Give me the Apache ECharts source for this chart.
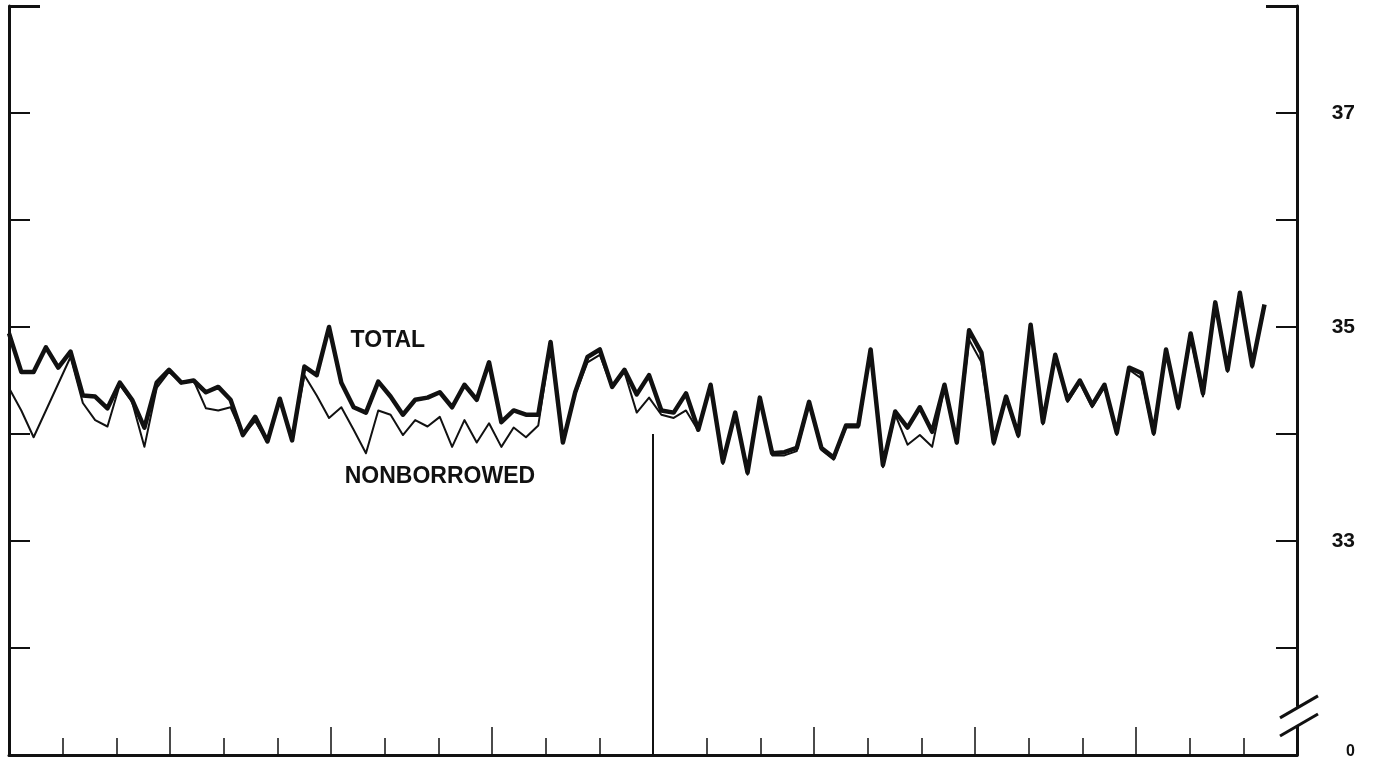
<!DOCTYPE html>
<html>
<head>
<meta charset="utf-8">
<script src="https://cdn.jsdelivr.net/npm/echarts@6/dist/echarts.min.js"></script>
<style>
  html, body { margin: 0; padding: 0; background: #fff; }
  #chart { width: 1378px; height: 760px; }
</style>
</head>
<body>
<div id="chart"></div>
<script>
// weekly reserves, billions of dollars
var totalReserves = [
  34.94, 34.58, 34.58, 34.81, 34.62, 34.77, 34.36, 34.35, 34.24, 34.48,
  34.32, 34.06, 34.48, 34.60, 34.48, 34.50, 34.39, 34.44, 34.32, 33.99,
  34.16, 33.93, 34.33, 33.94, 34.63, 34.55, 35.00, 34.48, 34.25, 34.20,
  34.49, 34.35, 34.18, 34.32, 34.34, 34.39, 34.25, 34.46, 34.32, 34.67,
  34.11, 34.22, 34.18, 34.18, 34.86, 33.92, 34.39, 34.72, 34.79, 34.44,
  34.60, 34.37, 34.55, 34.22, 34.20, 34.38, 34.04, 34.46, 33.74, 34.20,
  33.64, 34.34, 33.82, 33.83, 33.87, 34.30, 33.87, 33.78, 34.08, 34.08,
  34.79, 33.71, 34.21, 34.06, 34.25, 34.02, 34.46, 33.92, 34.97, 34.76,
  33.92, 34.35, 33.99, 35.02, 34.11, 34.74, 34.32, 34.50, 34.27, 34.46,
  34.01, 34.62, 34.57, 34.01, 34.79, 34.25, 34.94, 34.38, 35.23, 34.60,
  35.32, 34.64, 35.21
];
var nonborrowedReserves = [
  34.43, 34.22, 33.97, 34.22, 34.47, 34.72, 34.29, 34.13, 34.07, 34.46,
  34.30, 33.88, 34.43, 34.58, 34.48, 34.50, 34.24, 34.22, 34.25, 33.99,
  34.12, 33.93, 34.33, 33.94, 34.55, 34.36, 34.15, 34.25, 34.04, 33.82,
  34.22, 34.18, 33.99, 34.13, 34.07, 34.16, 33.88, 34.13, 33.92, 34.10,
  33.88, 34.06, 33.97, 34.08, 34.84, 33.92, 34.37, 34.67, 34.74, 34.43,
  34.58, 34.20, 34.34, 34.18, 34.15, 34.22, 34.03, 34.44, 33.72, 34.18,
  33.62, 34.32, 33.80, 33.80, 33.84, 34.28, 33.85, 33.76, 34.06, 34.06,
  34.77, 33.69, 34.18, 33.90, 33.99, 33.88, 34.43, 33.91, 34.88, 34.67,
  33.90, 34.33, 33.97, 35.00, 34.09, 34.72, 34.30, 34.48, 34.25, 34.44,
  33.99, 34.60, 34.52, 33.99, 34.77, 34.23, 34.90, 34.35, 35.21, 34.58,
  35.30, 34.62, 35.19
];
var yLabels = { 37: '37', 35: '35', 33: '33', 31: '{z|0}' };
var seriesNames = ['TOTAL', 'NONBORROWED'];

var WEEKS_PER_MONTH = 4.36;
function toPoints(arr) {
  return arr.map(function (v, i) { return [i / WEEKS_PER_MONTH, v]; });
}

var chart = echarts.init(document.getElementById('chart'));
var ink = '#111';
var labelFont = 'Liberation Sans';

function yAxisBase(pos, interval, tickLen, tickWidth, showLine) {
  return {
    type: 'value', min: 31, max: 38, interval: interval, position: pos, offset: 0,
    axisLine: { show: showLine, onZero: false, lineStyle: { color: ink, width: 3 } },
    axisTick: { show: true, inside: true, length: tickLen, lineStyle: { color: ink, width: tickWidth } },
    axisLabel: { show: false },
    splitLine: { show: false }
  };
}

var rightAxis = yAxisBase('right', 1, 21, 2, true);
rightAxis.axisLabel = {
  show: true, margin: 58, align: 'right',
  color: ink, fontFamily: labelFont, fontWeight: 'bold', fontSize: 21,
  formatter: function (v) { return yLabels[v] || ''; },
  rich: { z: { fontFamily: labelFont, fontWeight: 'bold', fontSize: 16, color: ink, padding: [0, 0, 6, 0] } }
};

var option = {
  animation: false,
  backgroundColor: '#fff',
  grid: { left: 9, right: 81, top: 6, bottom: 3 },
  xAxis: [
    {
      type: 'value', min: 0, max: 24, interval: 1,
      axisLine: { onZero: false, lineStyle: { color: ink, width: 3 } },
      axisTick: { inside: true, length: 17, lineStyle: { color: ink, width: 1.5 } },
      axisLabel: { show: false },
      splitLine: { show: false }
    },
    {
      type: 'value', min: 0, max: 24, interval: 3, position: 'bottom', offset: 0,
      axisLine: { show: false, onZero: false },
      axisTick: { inside: true, length: 28, lineStyle: { color: ink, width: 1.5 } },
      axisLabel: { show: false },
      splitLine: { show: false }
    }
  ],
  yAxis: [
    yAxisBase('left', 1, 21, 2, true),
    rightAxis,
    yAxisBase('left', 7, 31, 3, false),
    yAxisBase('right', 7, 31, 3, false)
  ],
  series: [
    {
      name: seriesNames[1],
      type: 'line',
      data: toPoints(nonborrowedReserves),
      showSymbol: false,
      symbol: 'none',
      lineStyle: { color: ink, width: 2, join: 'round' },
      markPoint: {
        symbol: 'circle', symbolSize: 0,
        label: {
          show: true, formatter: seriesNames[1], color: ink,
          fontFamily: labelFont, fontWeight: 'bold', fontSize: 23
        },
        data: [{ coord: [8.03, 33.6] }]
      },
      z: 2
    },
    {
      name: seriesNames[0],
      type: 'line',
      data: toPoints(totalReserves),
      showSymbol: false,
      symbol: 'none',
      lineStyle: { color: ink, width: 4.5, join: 'round' },
      markPoint: {
        symbol: 'circle', symbolSize: 0,
        label: {
          show: true, formatter: seriesNames[0], color: ink,
          fontFamily: labelFont, fontWeight: 'bold', fontSize: 23
        },
        data: [{ coord: [7.06, 34.87] }]
      },
      markLine: {
        silent: true,
        symbol: 'none',
        label: { show: false },
        lineStyle: { color: ink, width: 2, type: 'solid' },
        data: [[{ coord: [12, 34] }, { coord: [12, 31] }]]
      },
      z: 3
    }
  ]
};

chart.setOption(option);

// axis break on the right-hand scale
var xR = chart.convertToPixel({ xAxisIndex: 0 }, 24);
var yTop = chart.convertToPixel({ yAxisIndex: 0 }, 31.45);
var yBot = chart.convertToPixel({ yAxisIndex: 0 }, 31.28);
chart.setOption({
  graphic: [
    { type: 'rect', shape: { x: xR - 4, y: yTop, width: 8, height: yBot - yTop }, style: { fill: '#fff' }, z: 100 },
    { type: 'line', shape: { x1: xR - 17, y1: yTop + 11, x2: xR + 21, y2: yTop - 11 }, style: { stroke: ink, lineWidth: 3 }, z: 101 },
    { type: 'line', shape: { x1: xR - 17, y1: yBot + 11, x2: xR + 21, y2: yBot - 11 }, style: { stroke: ink, lineWidth: 3 }, z: 101 }
  ]
});
</script>
</body>
</html>
